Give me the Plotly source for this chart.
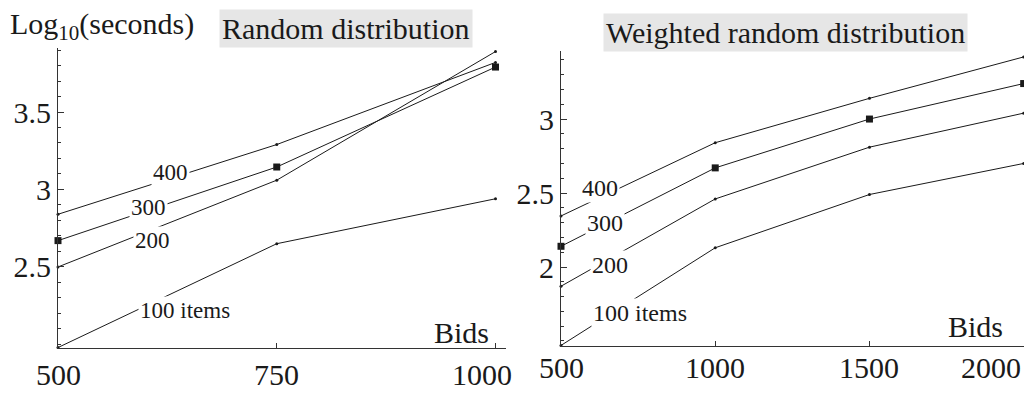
import plotly.graph_objects as go

# ---------------- data ----------------
left_bids = [500, 750, 1000]
left_100 = [1.98, 2.65, 2.94]
left_200 = [2.50, 3.06, 3.89]
left_300 = [2.67, 3.145, 3.79]
left_400 = [2.84, 3.29, 3.82]

right_bids = [500, 1000, 1500, 2000]
right_100 = [1.47, 2.13, 2.49, 2.70]
right_200 = [1.87, 2.46, 2.81, 3.04]
right_300 = [2.14, 2.67, 3.00, 3.24]
right_400 = [2.345, 2.84, 3.14, 3.42]

series_names = ["100 items", "200", "300", "400"]
left_series = [left_100, left_200, left_300, left_400]
right_series = [right_100, right_200, right_300, right_400]

left_xticks = [500, 750, 1000]
right_xticks = [500, 1000, 1500, 2000]
left_yticks = [2.5, 3, 3.5]
right_yticks = [2, 2.5, 3]

FONT = "Liberation Serif, Times New Roman, serif"
W, H = 1024, 393

fig = go.Figure()

def add_panel(xs, series, xa, ya):
    for name, ys in zip(series_names, series):
        square = name == "300"
        fig.add_trace(go.Scatter(
            x=xs, y=ys, mode="lines+markers", name=name,
            line=dict(color="#1a1a1a", width=1),
            marker=dict(symbol="square" if square else "circle",
                        size=7 if square else 3, color="#1a1a1a"),
            xaxis=xa, yaxis=ya, showlegend=False, cliponaxis=False,
        ))

add_panel(left_bids, left_series, "x", "y")
add_panel(right_bids, right_series, "x2", "y2")

axis_common = dict(showgrid=False, zeroline=False, showline=True,
                   linecolor="#333", linewidth=1, ticks="inside",
                   tickcolor="#333", automargin=False)

fig.update_layout(
    width=W, height=H,
    margin=dict(l=0, r=0, t=0, b=0),
    paper_bgcolor="white", plot_bgcolor="white",
    font=dict(family=FONT, size=30, color="#1a1a1a"),
    xaxis=dict(domain=[58/W, 506/W], range=[500, 1012],
               tickvals=left_xticks, showticklabels=False, ticklen=5,
               anchor="y", **axis_common),
    yaxis=dict(domain=[45/H, 345/H], range=[1.977, 3.913],
               tickvals=left_yticks, ticklen=6, anchor="x",
               tickfont=dict(size=30, family=FONT),
               minor=dict(dtick=0.1, ticks="inside", ticklen=3, tickcolor="#333"),
               **axis_common),
    xaxis2=dict(domain=[561/W, 1.0], range=[500, 2001],
                tickvals=right_xticks, showticklabels=False, ticklen=5,
                anchor="y2", **axis_common),
    yaxis2=dict(domain=[47/H, 342/H], range=[1.466, 3.46],
                tickvals=right_yticks, ticklen=6, anchor="x2",
                tickfont=dict(size=30, family=FONT),
                minor=dict(dtick=0.1, ticks="inside", ticklen=3, tickcolor="#333"),
                **axis_common),
)

def py(pix):
    return 1 - pix / H

ann = []
# x tick labels (placed as text so the last one stays inside the page)
left_shift = [0, 0, -14]
for v, s in zip(left_xticks, left_shift):
    ann.append(dict(x=v, y=py(374), xref="x", yref="paper",
                    xanchor="center", yanchor="middle",
                    text=str(v), showarrow=False, xshift=s,
                    font=dict(size=30, family=FONT)))
right_shift = [0, 0, 0, -33]
for v, s in zip(right_xticks, right_shift):
    ann.append(dict(x=v, y=py(367), xref="x2", yref="paper",
                    xanchor="center", yanchor="middle",
                    text=str(v), showarrow=False, xshift=s,
                    font=dict(size=30, family=FONT)))

# titles
ann.append(dict(x=346/W, y=py(29), xref="paper", yref="paper",
                xanchor="center", yanchor="middle",
                text="Random distribution", showarrow=False,
                bgcolor="#e6e6e6", borderpad=2,
                font=dict(size=30, family=FONT)))
ann.append(dict(x=785/W, y=py(32), xref="paper", yref="paper",
                xanchor="center", yanchor="middle",
                text="Weighted random distribution", showarrow=False,
                bgcolor="#e6e6e6", borderpad=2,
                font=dict(size=30, family=FONT)))
ann.append(dict(x=8/W, y=py(26), xref="paper", yref="paper",
                xanchor="left", yanchor="middle",
                text="Log<sub>10</sub>(seconds)", showarrow=False,
                font=dict(size=30, family=FONT)))
# axis labels
ann.append(dict(x=461/W, y=py(332), xref="paper", yref="paper",
                xanchor="center", yanchor="middle",
                text="Bids", showarrow=False, font=dict(size=30, family=FONT)))
ann.append(dict(x=975/W, y=py(326), xref="paper", yref="paper",
                xanchor="center", yanchor="middle",
                text="Bids", showarrow=False, font=dict(size=30, family=FONT)))

# series labels (white background cuts the line like the original)
left_label_pos = [(185, 310), (152, 240), (148, 207), (170, 172)]
for name, (px, pyy) in zip(series_names, left_label_pos):
    ann.append(dict(x=px/W, y=py(pyy), xref="paper", yref="paper",
                    xanchor="center", yanchor="middle",
                    text=name, showarrow=False, bgcolor="white", borderpad=1,
                    font=dict(size=23, family=FONT)))
right_label_pos = [(640, 313), (610, 265), (605, 223), (600, 188)]
for name, (px, pyy) in zip(series_names, right_label_pos):
    ann.append(dict(x=px/W, y=py(pyy), xref="paper", yref="paper",
                    xanchor="center", yanchor="middle",
                    text=name, showarrow=False, bgcolor="white", borderpad=1,
                    font=dict(size=24, family=FONT)))

fig.update_layout(annotations=ann)
fig.write_html("out.html",
               config={"displayModeBar": False, "staticPlot": True},
               post_script="document.body.style.margin='0';"
                           "document.body.style.overflow='hidden';")
